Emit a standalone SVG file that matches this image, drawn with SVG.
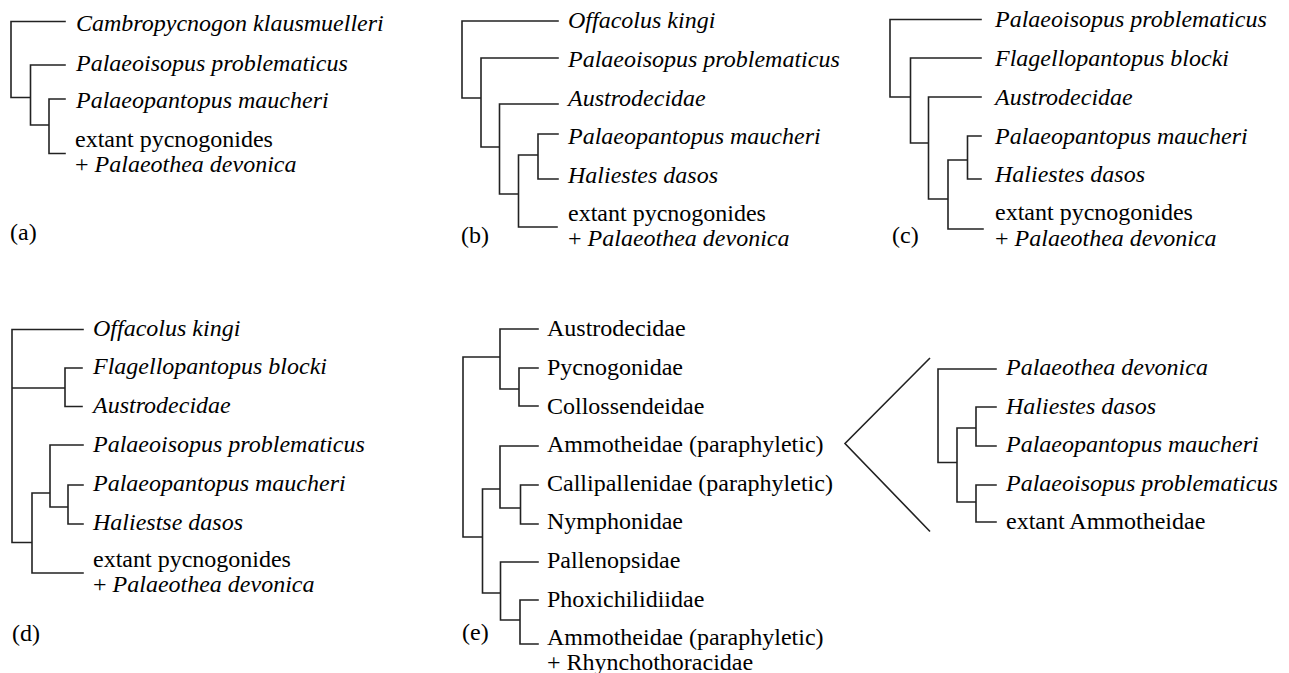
<svg xmlns="http://www.w3.org/2000/svg" width="1289" height="673" viewBox="0 0 1289 673">
<style>
text{font-family:"Liberation Serif","Times New Roman",serif;font-size:24px;fill:#000}
.i{font-style:italic}
.e{stroke:#222;stroke-width:1.6;fill:none;stroke-linecap:square}
</style>
<rect width="1289" height="673" fill="#fff"/>
<g id="connectors" class="e">
<!-- (a) -->
<path d="M11,21.5V97.5M11,21.5H65M11,97.5H30.5M30.5,65V125M30.5,65H65M30.5,125H49M49,99V153.5M49,99H65M49,153.5H65"/>
<!-- (b) -->
<path d="M462,21V98M462,21H558M462,98H481M481,58V147M481,58H558M481,147H499.5M499.5,104V194M499.5,104H558M499.5,194H518.5M518.5,155V227M518.5,227H557M518.5,155H538M538,134V179M538,134H558M538,179H558"/>
<!-- (c) -->
<path d="M890,19.5V97M890,19.5H981M890,97H910.5M910.5,58V143M910.5,58H981M910.5,143H928.5M928.5,97V199M928.5,97H981M928.5,199H948M948,160V229M948,229H983M948,160H967.5M967.5,136V179M967.5,136H981M967.5,179H981"/>
<!-- (d) -->
<path d="M12,329.5V542.5M12,329.5H83M12,388H65M65,368V406.5M65,368H82M65,406.5H82M12,542.5H32M32,493V573M32,573H83M32,493H50M50,445V507M50,445H83M50,507H68M68,485V524M68,485H83M68,524H83"/>
<!-- (e) -->
<path d="M463,357V537M463,357H500M500,329V389M500,329H538M500,389H519M519,368V406M519,368H538M519,406H538M463,537H482.5M482.5,489V593M482.5,489H500M500,446V508M500,446H538M500,508H520.5M520.5,485V524M520.5,485H538M520.5,524H538M482.5,593H500.5M500.5,562V620M500.5,562H538M500.5,620H520M520,600V644M520,600H538M520,644H538"/>
<!-- expansion -->
<path d="M930,358L845,443.5L930,531.5" stroke-linecap="butt"/>
<path d="M938,369V462.5M938,369H996M938,462.5H957M957,428V502M957,428H976M976,407V446M976,407H996M976,446H996M957,502H976M976,485V522M976,485H996M976,522H996"/>
</g>
<g id="panel-a">
<g id="a1"><text class="i" x="76" y="31">Cambropycnogon klausmuelleri</text></g>
<g id="a2"><text class="i" x="76" y="71">Palaeoisopus problematicus</text></g>
<g id="a3"><text class="i" x="76" y="108">Palaeopantopus maucheri</text></g>
<g id="a4"><text x="75" y="147">extant pycnogonides</text><text x="75" y="172">+ <tspan class="i">Palaeothea devonica</tspan></text></g>
<g id="a-label"><text x="10" y="240">(a)</text></g>
</g>
<g id="panel-b">
<g id="b1"><text class="i" x="568" y="28">Offacolus kingi</text></g>
<g id="b2"><text class="i" x="568" y="67">Palaeoisopus problematicus</text></g>
<g id="b3"><text class="i" x="568" y="106">Austrodecidae</text></g>
<g id="b4"><text class="i" x="568" y="144">Palaeopantopus maucheri</text></g>
<g id="b5"><text class="i" x="568" y="183">Haliestes dasos</text></g>
<g id="b6"><text x="568" y="221">extant pycnogonides</text><text x="568" y="246">+ <tspan class="i">Palaeothea devonica</tspan></text></g>
<g id="b-label"><text x="461" y="243">(b)</text></g>
</g>
<g id="panel-c">
<g id="c1"><text class="i" x="995" y="27">Palaeoisopus problematicus</text></g>
<g id="c2"><text class="i" x="995" y="66">Flagellopantopus blocki</text></g>
<g id="c3"><text class="i" x="995" y="105">Austrodecidae</text></g>
<g id="c4"><text class="i" x="995" y="144">Palaeopantopus maucheri</text></g>
<g id="c5"><text class="i" x="995" y="182">Haliestes dasos</text></g>
<g id="c6"><text x="995" y="220">extant pycnogonides</text><text x="995" y="246">+ <tspan class="i">Palaeothea devonica</tspan></text></g>
<g id="c-label"><text x="892" y="243">(c)</text></g>
</g>
<g id="panel-d">
<g id="d1"><text class="i" x="93" y="336">Offacolus kingi</text></g>
<g id="d2"><text class="i" x="93" y="374">Flagellopantopus blocki</text></g>
<g id="d3"><text class="i" x="93" y="413">Austrodecidae</text></g>
<g id="d4"><text class="i" x="93" y="452">Palaeoisopus problematicus</text></g>
<g id="d5"><text class="i" x="93" y="491">Palaeopantopus maucheri</text></g>
<g id="d6"><text class="i" x="93" y="530">Haliestse dasos</text></g>
<g id="d7"><text x="93" y="567">extant pycnogonides</text><text x="93" y="592">+ <tspan class="i">Palaeothea devonica</tspan></text></g>
<g id="d-label"><text x="12" y="641">(d)</text></g>
</g>
<g id="panel-e">
<g id="e1"><text x="547" y="336">Austrodecidae</text></g>
<g id="e2"><text x="547" y="375">Pycnogonidae</text></g>
<g id="e3"><text x="547" y="414">Collossendeidae</text></g>
<g id="e4"><text x="547" y="452">Ammotheidae (paraphyletic)</text></g>
<g id="e5"><text x="547" y="491">Callipallenidae (paraphyletic)</text></g>
<g id="e6"><text x="547" y="529">Nymphonidae</text></g>
<g id="e7"><text x="547" y="568">Pallenopsidae</text></g>
<g id="e8"><text x="547" y="607">Phoxichilidiidae</text></g>
<g id="e9"><text x="547" y="645">Ammotheidae (paraphyletic)</text><text x="547" y="670">+ Rhynchothoracidae</text></g>
<g id="e-label"><text x="462" y="640">(e)</text></g>
</g>
<g id="panel-e-detail">
<g id="f1"><text class="i" x="1006" y="375">Palaeothea devonica</text></g>
<g id="f2"><text class="i" x="1006" y="414">Haliestes dasos</text></g>
<g id="f3"><text class="i" x="1006" y="452">Palaeopantopus maucheri</text></g>
<g id="f4"><text class="i" x="1006" y="491">Palaeoisopus problematicus</text></g>
<g id="f5"><text x="1006" y="529">extant Ammotheidae</text></g>
</g>
</svg>
